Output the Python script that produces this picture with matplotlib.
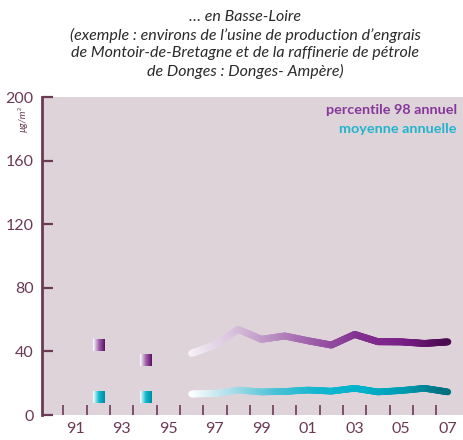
import numpy as np
import matplotlib.pyplot as plt
from matplotlib.collections import LineCollection
from matplotlib.colors import LinearSegmentedColormap

plt.rcParams['font.family'] = ['Lato', 'DejaVu Sans']

# isolated years (squares)
years_sq = [1992, 1994]
p98_sq = [44, 34.5]
moy_sq = [11.3, 11.3]

# continuous series 1996-2007
years = [1996, 1997, 1998, 1999, 2000, 2001, 2002, 2003, 2004, 2005, 2006, 2007]
p98 = [38.8, 44, 53.9, 47.6, 49.7, 46.7, 44, 50.7, 46.1, 46, 45, 46]
moy = [13.2, 13.5, 15.7, 14.5, 14.8, 15.7, 15, 16.8, 14.5, 15.4, 16.8, 14.5]

tick_years = [1991, 1993, 1995, 1997, 1999, 2001, 2003, 2005, 2007]
tick_labels = ['91', '93', '95', '97', '99', '01', '03', '05', '07']

axc = '#6b3a55'
bg = '#ddd3d9'
purple_cm = LinearSegmentedColormap.from_list(
    'p', ['#f6f1f6', '#d9c2dc', '#b88cc0', '#9a58a6', '#82308f', '#7a2088', '#4d0a52'])
cyan_cm = LinearSegmentedColormap.from_list(
    'c', ['#ffffff', '#a9dde8', '#4cc2d6', '#14b6cf', '#00b2cc', '#009db4', '#006f7e'])
sq_p_cm = LinearSegmentedColormap.from_list('sp', ['#ffffff', '#a060aa', '#5e1066'])
sq_c_cm = LinearSegmentedColormap.from_list('sc', ['#ffffff', '#10b8d0', '#008aa0'])

fig = plt.figure(figsize=(4.63, 4.40), dpi=100)
ax = fig.add_axes([0.0907, 0.0568, 0.9093, 0.7227])
ax.set_facecolor(bg)


def gradient_line(x, y, cmap, lw):
    segs = []
    for i in range(len(x) - 1):
        xs = np.linspace(x[i], x[i + 1], 25)
        ys = np.linspace(y[i], y[i + 1], 25)
        for j in range(24):
            segs.append([(xs[j], ys[j]), (xs[j + 1], ys[j + 1])])
    cols = cmap(np.linspace(0, 1, len(segs)))
    lc = LineCollection(segs, colors=cols, linewidths=lw, capstyle='round', zorder=3)
    ax.add_collection(lc)


gradient_line(years, p98, purple_cm, 5.0)
gradient_line(years, moy, cyan_cm, 4.8)

grad = np.linspace(0, 1, 50).reshape(1, -1)
for yr, v in zip(years_sq, p98_sq):
    ax.imshow(grad, cmap=sq_p_cm, extent=[yr - 0.23, yr + 0.28, v - 3.7, v + 3.7],
              aspect='auto', zorder=3)
for yr, v in zip(years_sq, moy_sq):
    ax.imshow(grad, cmap=sq_c_cm, extent=[yr - 0.23, yr + 0.28, v - 3.7, v + 3.7],
              aspect='auto', zorder=3)

ax.set_xlim(1989.58, 2007.65)
ax.set_ylim(0, 200)

for s in ['top', 'right', 'bottom']:
    ax.spines[s].set_visible(False)
ax.spines['left'].set_color(axc)
ax.spines['left'].set_linewidth(2)

ax.set_yticks([0, 40, 80, 120, 160, 200])
ax.tick_params(axis='y', direction='in', length=8, width=1.6, color=axc,
               labelcolor=axc, labelsize=11.5, pad=6)
ax.set_xticks(tick_years)
ax.set_xticklabels(tick_labels)
ax.set_xticks(np.arange(1990.5, 2007, 1), minor=True)
ax.tick_params(axis='x', which='major', length=0, labelcolor=axc, labelsize=11.5, pad=5)
ax.tick_params(axis='x', which='minor', direction='in', length=7, width=1.2, color=axc)

ax.text(-0.035, 0.93, 'µg/m³', transform=ax.transAxes, rotation=90, style='italic',
        fontsize=7, color=axc, ha='right', va='center')

ax.text(0.985, 0.96, 'percentile 98 annuel', transform=ax.transAxes, ha='right', va='center',
        color='#86379a', fontsize=10.4, fontweight='bold')
ax.text(0.985, 0.90, 'moyenne annuelle', transform=ax.transAxes, ha='right', va='center',
        color='#23b3cb', fontsize=10.4, fontweight='bold')

title = ("… en Basse-Loire\n"
         "(exemple : environs de l’usine de production d’engrais\n"
         "de Montoir-de-Bretagne et de la raffinerie de pétrole\n"
         "de Donges : Donges- Ampère)")
fig.text(0.53, 0.977, title, ha='center', va='top', style='italic', fontsize=11.5,
         color='#2a2a2a', linespacing=1.3)

fig.savefig('out.png', dpi=100)
